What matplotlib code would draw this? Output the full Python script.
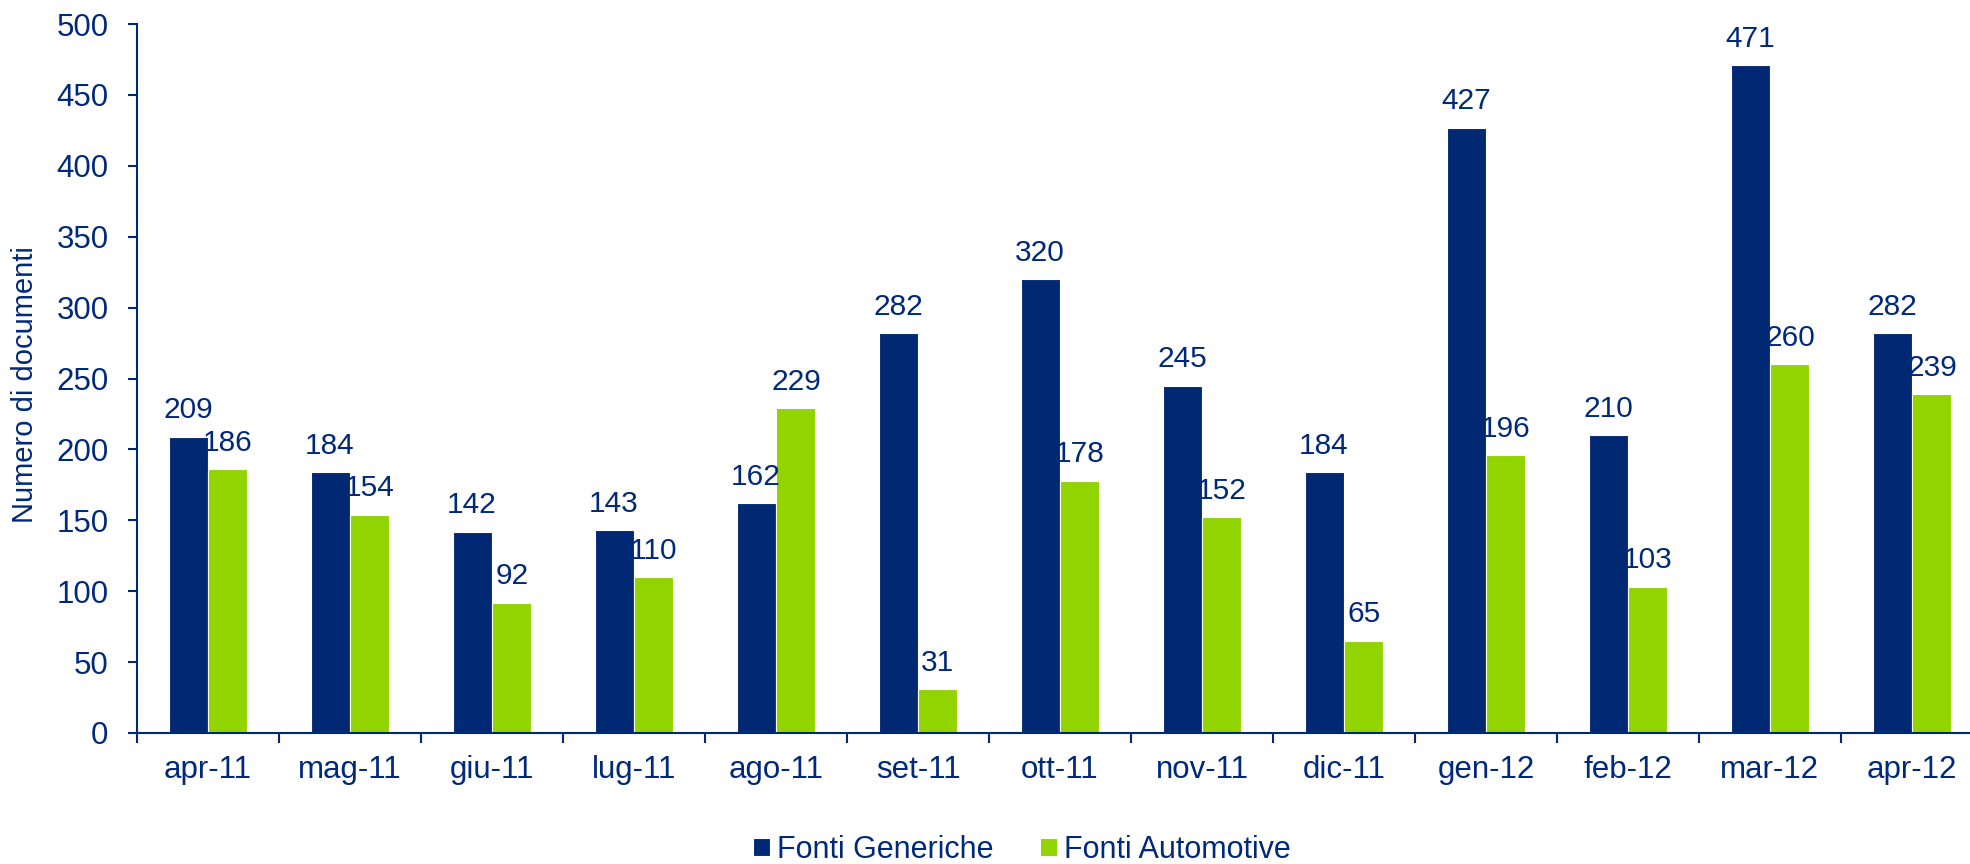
import matplotlib
matplotlib.use("Agg")
import matplotlib.pyplot as plt
import numpy as np

categories = ["apr-11", "mag-11", "giu-11", "lug-11", "ago-11", "set-11", "ott-11",
              "nov-11", "dic-11", "gen-12", "feb-12", "mar-12", "apr-12"]
generiche = [209, 184, 142, 143, 162, 282, 320, 245, 184, 427, 210, 471, 282]
automotive = [186, 154, 92, 110, 229, 31, 178, 152, 65, 196, 103, 260, 239]

NAVY = "#002873"
GREEN = "#92D400"
TXT = "#00297A"

plt.rcParams['font.family'] = ['Liberation Sans', 'DejaVu Sans']

W, H = 1970, 864
fig = plt.figure(figsize=(W / 100, H / 100), dpi=100)
left, right, top, bottom = 137, 1983, 24, 733
ax = fig.add_axes([left / W, 1 - bottom / H, (right - left) / W, (bottom - top) / H])

x = np.arange(len(categories))
bw = 0.275
b1 = ax.bar(x - bw / 2 - 0.003, generiche, bw, color=NAVY, edgecolor="white", linewidth=0.8,
            label="Fonti Generiche")
b2 = ax.bar(x + bw / 2 + 0.003, automotive, bw, color=GREEN, edgecolor="white", linewidth=0.8,
            label="Fonti Automotive")

for bars, vals in ((b1, generiche), (b2, automotive)):
    for r, v in zip(bars, vals):
        ax.annotate(str(v), (r.get_x() + r.get_width() / 2, v), xytext=(0, 9),
                    textcoords="offset points", ha="center", va="bottom",
                    fontsize=21.5, color=TXT)

ax.set_xlim(-0.5, len(categories) - 0.5)
ax.set_ylim(0, 500)
ax.set_yticks(range(0, 501, 50))
ax.set_xticks(x)
ax.set_xticklabels(categories)
ax.set_xticks(np.arange(-0.5, len(categories), 1), minor=True)
ax.tick_params(axis="x", which="major", length=0, pad=16, labelsize=22.5, labelcolor=TXT)
ax.tick_params(axis="x", which="minor", length=7, width=1.5, color=NAVY, direction="out")
ax.tick_params(axis="y", length=6.5, width=1.5, color=NAVY, direction="out", pad=14,
               labelsize=22.5, labelcolor=TXT)
for s in ("top", "right"):
    ax.spines[s].set_visible(False)
for s in ("left", "bottom"):
    ax.spines[s].set_color(NAVY)
    ax.spines[s].set_linewidth(1.5)

fig.text(25 / W, 1 - 385 / H, "Numero di documenti", rotation=90, ha="center", va="center",
         fontsize=21, color=TXT)

leg = fig.legend(handles=[b1, b2], loc="center", bbox_to_anchor=(1022 / W, 1 - 850 / H),
                 ncol=2, frameon=False, fontsize=22, handlelength=0.55, handleheight=0.55,
                 handletextpad=0.25, columnspacing=1.5, labelcolor=TXT, borderpad=0)

fig.savefig("out.png", dpi=100)
